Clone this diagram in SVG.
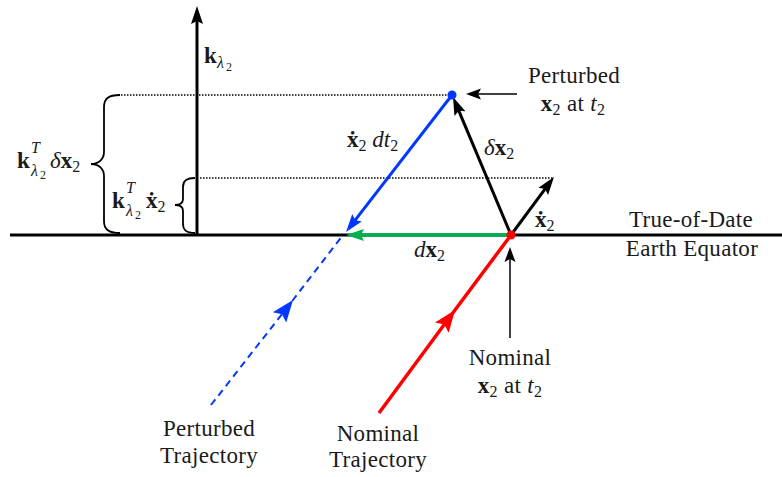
<svg xmlns="http://www.w3.org/2000/svg" width="782" height="477" viewBox="0 0 782 477">
<defs>
<style>
text{font-family:"Liberation Serif","DejaVu Serif",serif;fill:#1a1a1a;}
.lbl{font-size:23px;text-anchor:middle;letter-spacing:0.3px;}
.m{font-size:23px;}
.b{font-weight:bold;}
.i{font-style:italic;}
.sub{font-size:16px;}
.ss{font-size:16px;}
.sss{font-size:12px;}
.dot{fill:none;stroke:#000;stroke-width:1.3;stroke-dasharray:1.5 1.5;}
.brace{fill:none;stroke:#000;stroke-width:1.8;}
</style>
<marker id="ahK" markerUnits="userSpaceOnUse" markerWidth="20" markerHeight="14" viewBox="0 -7 20 14" refX="10" refY="0" orient="auto"><path d="M0,-6 L18,0 L0,6 L3,0 Z" fill="#000"/></marker>
<marker id="ahB" markerUnits="userSpaceOnUse" markerWidth="20" markerHeight="14" viewBox="0 -7 20 14" refX="10" refY="0" orient="auto"><path d="M0,-6 L18,0 L0,6 L3,0 Z" fill="#0038ff"/></marker>
<marker id="ahG" markerUnits="userSpaceOnUse" markerWidth="20" markerHeight="14" viewBox="0 -7 20 14" refX="10" refY="0" orient="auto"><path d="M0,-6 L18,0 L0,6 L3,0 Z" fill="#00b04f"/></marker>
<marker id="ahS" markerUnits="userSpaceOnUse" markerWidth="18" markerHeight="14" viewBox="0 -7 18 14" refX="8" refY="0" orient="auto"><path d="M0,-5.5 L15,0 L0,5.5 L3,0 Z" fill="#000"/></marker>
<marker id="midB" markerUnits="userSpaceOnUse" markerWidth="24" markerHeight="20" viewBox="0 -10 24 20" refX="22" refY="0" orient="auto"><path d="M0,-8.5 L22,0 L0,8.5 L4,0 Z" fill="#0038ff"/></marker>
<marker id="midR" markerUnits="userSpaceOnUse" markerWidth="24" markerHeight="20" viewBox="0 -10 24 20" refX="22" refY="0" orient="auto"><path d="M0,-8.5 L22,0 L0,8.5 L4,0 Z" fill="#ff0000"/></marker>
</defs>
<rect width="782" height="477" fill="#fff"/>

<g id="connectors">
<line x1="10" y1="235" x2="782" y2="235" stroke="#000" stroke-width="3"/>
<line x1="197" y1="236" x2="197" y2="14" stroke="#000" stroke-width="3" marker-end="url(#ahK)"/>
<line class="dot" x1="121" y1="95" x2="449" y2="95"/>
<line class="dot" x1="200" y1="178" x2="553" y2="178"/>
<path class="brace" d="M120,95 C108,95 104,99 104,107 L104,152 C104,159 99,164 91,164 C99,164 104,169 104,176 L104,221 C104,229 108,233 120,233"/>
<path class="brace" d="M195,178 C186,178 183,181 183,187 L183,199 C183,203 180,205 175,205 C180,205 183,207 183,211 L183,224 C183,230 186,233 195,233"/>
<path d="M211,405 L293,300 L343,235" fill="none" stroke="#0038ff" stroke-width="2" stroke-dasharray="7 5" marker-mid="url(#midB)"/>
<path d="M379,413 L455,310 L511,235" fill="none" stroke="#ff0000" stroke-width="3.5" marker-mid="url(#midR)"/>
<line x1="511" y1="235" x2="354" y2="235" stroke="#00b04f" stroke-width="3.5" marker-end="url(#ahG)"/>
<line x1="452" y1="95" x2="350.9" y2="225.7" stroke="#0038ff" stroke-width="3" marker-end="url(#ahB)"/>
<line x1="511" y1="235" x2="456.1" y2="104.4" stroke="#000" stroke-width="3" marker-end="url(#ahK)"/>
<line x1="511" y1="235" x2="549.2" y2="183.4" stroke="#000" stroke-width="3" marker-end="url(#ahK)"/>
<line x1="517" y1="94" x2="473" y2="94" stroke="#000" stroke-width="1.5" marker-end="url(#ahS)"/>
<line x1="510" y1="338" x2="510" y2="254" stroke="#000" stroke-width="1.5" marker-end="url(#ahS)"/>
</g>

<g id="perturbed-point">
<circle cx="452" cy="95" r="4.5" fill="#0038ff"/>
<text class="lbl" x="574" y="83">Perturbed</text>
<text class="lbl" x="573" y="111"><tspan class="b">x</tspan><tspan class="sub" dy="4">2</tspan><tspan dy="-4"> at </tspan><tspan class="i">t</tspan><tspan class="sub" dy="4">2</tspan></text>
</g>

<g id="nominal-point">
<circle cx="511" cy="235" r="4.5" fill="#ff0000"/>
<text class="lbl" x="510" y="365">Nominal</text>
<text class="lbl" x="510" y="393"><tspan class="b">x</tspan><tspan class="sub" dy="4">2</tspan><tspan dy="-4"> at </tspan><tspan class="i">t</tspan><tspan class="sub" dy="4">2</tspan></text>
</g>

<g id="equator-label">
<text class="lbl" x="691" y="227">True-of-Date</text>
<text class="lbl" x="692" y="256">Earth Equator</text>
</g>

<g id="perturbed-trajectory">
<text class="lbl" x="209" y="436">Perturbed</text>
<text class="lbl" x="209" y="463">Trajectory</text>
</g>

<g id="nominal-trajectory">
<text class="lbl" x="378" y="441">Nominal</text>
<text class="lbl" x="378" y="467">Trajectory</text>
</g>

<g id="k-axis-label">
<text class="m b" x="204" y="63">k</text>
<text class="ss i" x="217" y="68">λ</text>
<text class="sss" x="226" y="71">2</text>
</g>

<g id="kT-dx-label">
<text class="m b" x="17" y="168">k</text>
<text class="ss i" x="31" y="153">T</text>
<text class="ss i" x="31" y="176">λ</text>
<text class="sss" x="40" y="179">2</text>
<text class="m" x="50" y="168"><tspan class="i">δ</tspan><tspan class="b">x</tspan><tspan class="sub" dy="4">2</tspan></text>
</g>

<g id="kT-xdot-label">
<text class="m b" x="112" y="208">k</text>
<text class="ss i" x="126" y="193">T</text>
<text class="ss i" x="126" y="216">λ</text>
<text class="sss" x="135" y="219">2</text>
<text class="m" x="146" y="208"><tspan class="b">ẋ</tspan><tspan class="sub" dy="4">2</tspan></text>
</g>

<g id="xdot-dt-label">
<text class="m" x="347" y="147"><tspan class="b">ẋ</tspan><tspan class="sub" dy="4">2</tspan><tspan dy="-4" class="i"> dt</tspan><tspan class="sub" dy="4">2</tspan></text>
</g>

<g id="dx-label">
<text class="m" x="484" y="155"><tspan class="i">δ</tspan><tspan class="b">x</tspan><tspan class="sub" dy="4">2</tspan></text>
</g>

<g id="xdot-label">
<text class="m" x="535" y="227"><tspan class="b">ẋ</tspan><tspan class="sub" dy="4">2</tspan></text>
</g>

<g id="dx-green-label">
<text class="m" x="414" y="257"><tspan class="i">d</tspan><tspan class="b">x</tspan><tspan class="sub" dy="4">2</tspan></text>
</g>
</svg>
